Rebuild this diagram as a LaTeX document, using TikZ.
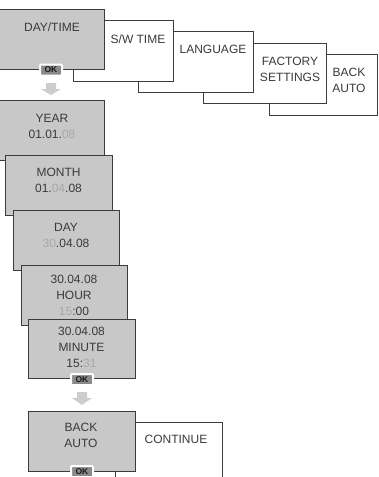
\documentclass[tikz,border=0pt]{standalone}
\usepackage{fontspec}
\setmainfont{Liberation Sans}
\definecolor{boxgray}{HTML}{C8C8C8}
\definecolor{edge}{HTML}{3C3C3C}
\definecolor{txt}{HTML}{3A3A3A}
\definecolor{lite}{HTML}{A8A8A8}
\definecolor{okfill}{HTML}{8A8A8A}
\definecolor{arrowgray}{HTML}{CDCDCD}
\tikzset{
  panel/.style={draw=edge, line width=1.1pt, inner sep=0pt, anchor=north west, minimum width=#1},
  wpanel/.style={panel=#1, fill=white},
  gpanel/.style={panel=#1, fill=boxgray},
  lbl/.style={text=txt, font=\fontsize{12}{16}\selectfont, align=center, inner sep=0pt},
  okbtn/.style={draw=white, line width=2pt, fill=okfill, rounded corners=1pt, minimum width=22pt, minimum height=11pt, inner sep=0pt, font=\bfseries\fontsize{8.5}{8.5}\selectfont, text=black!90},
  downarrow/.style={fill=arrowgray, draw=none}
}
\newcommand{\lt}[1]{\textcolor{lite}{#1}}
\begin{document}
\begin{tikzpicture}[x=1pt, y=-1pt]
\useasboundingbox (0,0) rectangle (379,477);
\clip (0,0) rectangle (379,477);
% horizontal chain, back to front
\node[wpanel=108pt, minimum height=61pt] (bau) at (269,54) {};
\node[wpanel=123pt, minimum height=60pt] (fac) at (203,43) {};
\node[wpanel=115pt, minimum height=61pt] (lang) at (138,31) {};
\node[wpanel=100pt, minimum height=61pt] (sw) at (73,20) {};
\node[gpanel=106pt, minimum height=60pt] (dt) at (-2,9) {};
\node[lbl] (tbau) at (349,80) {BACK\\AUTO};
\node[lbl] (tfac) at (290,69) {FACTORY\\SETTINGS};
\node[lbl] (tlang) at (213,49) {LANGUAGE};
\node[lbl] (tsw) at (138,39) {S/W TIME};
\node[lbl] (tdt) at (52,27) {DAY/TIME};
\node[okbtn] (ok1) at (51,70) {OK};
\fill[downarrow] (46,83) -- (56,83) -- (56,89) -- (61,89) -- (51,95) -- (41,89) -- (46,89) -- cycle;
% vertical stack
\node[gpanel=106pt, minimum height=60pt] (year) at (-2,100) {};
\node[lbl] (tyear) at (52,126) {YEAR\\01.01.\lt{08}};
\node[gpanel=107pt, minimum height=60pt] (month) at (5,155) {};
\node[lbl] (tmonth) at (58.5,180) {MONTH\\01.\lt{04}.08};
\node[gpanel=106pt, minimum height=60pt] (day) at (13,210) {};
\node[lbl] (tday) at (66,235) {DAY\\\lt{30}.04.08};
\node[gpanel=106pt, minimum height=60pt] (hour) at (21,265) {};
\node[lbl] (thour) at (74,295.5) {30.04.08\\HOUR\\\lt{15}:00};
\node[gpanel=107pt, minimum height=59pt] (minute) at (28,319) {};
\node[lbl] (tminute) at (81.5,347.5) {30.04.08\\MINUTE\\15:\lt{31}};
\node[okbtn] (ok2) at (82,379.5) {OK};
\fill[downarrow] (77,392) -- (87,392) -- (87,398) -- (92,398) -- (82,405) -- (72,398) -- (77,398) -- cycle;
% final pair
\node[wpanel=107pt, minimum height=80pt] (cont) at (115,422) {};
\node[lbl] (tcont) at (176,439) {CONTINUE};
\node[gpanel=107pt, minimum height=60pt] (bauto) at (28,411) {};
\node[lbl] (tbauto) at (81,435.5) {BACK\\AUTO};
\node[okbtn] (ok3) at (82,471.5) {OK};
\end{tikzpicture}
\end{document}
